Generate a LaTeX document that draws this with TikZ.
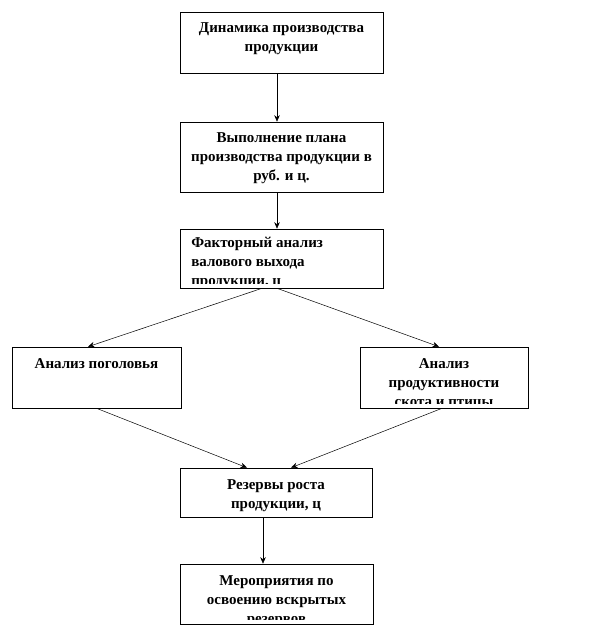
\documentclass[tikz,border=0pt]{standalone}
\usepackage{fontspec}
\setmainfont{Liberation Serif}
\usetikzlibrary{arrows.meta,calc}
\tikzset{
  box/.style={draw=black, line width=0.6pt, rectangle, inner sep=0pt},
  txt/.style={font=\fontsize{15}{19}\selectfont\bfseries, draw=none, inner sep=0pt,
    minimum width=0pt, minimum height=0pt, align=center, anchor=base},
  txtl/.style={txt, align=left, anchor=base west},
  inclip/.code={},
  ctext/.style 2 args={path picture={
    \clip ([yshift=4.5pt]path picture bounding box.south west) rectangle (path picture bounding box.north east);
    \node[txt] at ([yshift={-(19*#1+2)*1pt}]path picture bounding box.north) {#2};}},
  ltext/.style 2 args={path picture={
    \clip ([yshift=4.5pt]path picture bounding box.south west) rectangle (path picture bounding box.north east);
    \node[txtl] at ([xshift=11pt,yshift={-(19*#1-1)*1pt}]path picture bounding box.north west) {#2};}},
  arr/.style={draw=black, line width=0.5pt, -{Stealth[length=6.5pt,width=5.5pt]}}
}
\begin{document}
\begin{tikzpicture}[x=1pt,y=-1pt]
\useasboundingbox (0,0) rectangle (588,636);
% boxes
\node[box, minimum width=203pt, minimum height=61pt,
  ctext={2}{Динамика производства\\продукции}] (b1) at (281.5,42.5) {};
\node[box, minimum width=203pt, minimum height=70pt,
  ctext={3}{Выполнение плана\\производства продукции в\\руб. и ц.}] (b2) at (281.5,157) {};
\node[box, minimum width=203pt, minimum height=59pt,
  ltext={3}{Факторный анализ\\валового выхода\\продукции, ц}] (b3) at (281.5,258.5) {};
\node[box, minimum width=169pt, minimum height=61pt,
  ctext={1}{Анализ поголовья}] (bl) at (96.5,377.5) {};
\node[box, minimum width=168pt, minimum height=61pt,
  ctext={3}{Анализ\\продуктивности\\скота и птицы}] (br) at (444,377.5) {};
\node[box, minimum width=192pt, minimum height=49pt,
  ctext={2}{Резервы роста\\продукции, ц}] (b5) at (276,492.5) {};
\node[box, minimum width=193pt, minimum height=60pt,
  ctext={3}{Мероприятия по\\освоению вскрытых\\резервов}] (b6) at (276.5,594) {};
% connectors
\draw[arr] ([xshift=-4.5pt]b1.south) -- ([xshift=-4.5pt]b1.south |- b2.north);
\draw[arr] ([xshift=-4.5pt]b2.south) -- ([xshift=-4.5pt]b2.south |- b3.north);
\draw[arr] ([xshift=-19.5pt]b3.south) -- ([xshift=-8.5pt]bl.north);
\draw[arr] ([xshift=-4.5pt]b3.south) -- ([xshift=-5pt]br.north);
\draw[arr] (bl.south) -- ([xshift=-29pt]b5.north);
\draw[arr] ([xshift=-2pt]br.south) -- ([xshift=15pt]b5.north);
\draw[arr] ([xshift=-13pt]b5.south) -- ([xshift=-13pt]b5.south |- b6.north);
\end{tikzpicture}
\end{document}
